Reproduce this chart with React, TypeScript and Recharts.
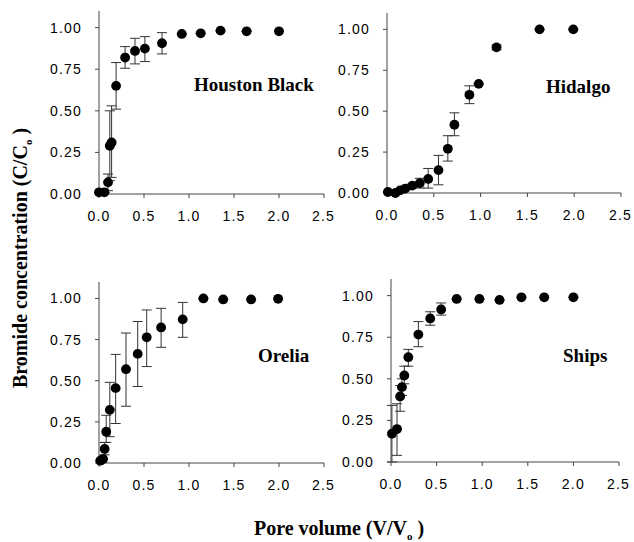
import React from 'react';
import { ScatterChart, Scatter, XAxis, YAxis, ErrorBar } from 'recharts';

// Houston Black
const houstonX = [0.0, 0.06, 0.1, 0.12, 0.14, 0.19, 0.29, 0.4, 0.51, 0.7, 0.92, 1.13, 1.35, 1.64, 2.0];
const houstonY = [0.01, 0.01, 0.07, 0.29, 0.31, 0.65, 0.82, 0.86, 0.874, 0.906, 0.962, 0.966, 0.982, 0.978, 0.978];
const houstonLo = [0.01, 0.01, 0.02, 0.08, 0.1, 0.51, 0.756, 0.782, 0.796, 0.842, 0.962, 0.966, 0.982, 0.978, 0.978];
const houstonHi = [0.01, 0.01, 0.12, 0.5, 0.53, 0.79, 0.886, 0.936, 0.946, 0.97, 0.962, 0.966, 0.982, 0.978, 0.978];

// Hidalgo
const hidalgoX = [0.01, 0.09, 0.14, 0.195, 0.27, 0.35, 0.44, 0.55, 0.65, 0.72, 0.88, 0.98, 1.17, 1.63, 1.99];
const hidalgoY = [0.006, 0.0, 0.016, 0.027, 0.045, 0.06, 0.086, 0.14, 0.27, 0.417, 0.6, 0.667, 0.89, 1.0, 1.0];
const hidalgoLo = [0.006, 0.0, 0.016, 0.02, 0.035, 0.03, 0.03, 0.05, 0.195, 0.35, 0.546, 0.667, 0.875, 1.0, 1.0];
const hidalgoHi = [0.006, 0.0, 0.016, 0.035, 0.055, 0.09, 0.15, 0.23, 0.35, 0.49, 0.655, 0.667, 0.905, 1.0, 1.0];

// Orelia
const oreliaX = [0.015, 0.045, 0.063, 0.08, 0.12, 0.185, 0.3, 0.43, 0.53, 0.69, 0.93, 1.16, 1.38, 1.69, 1.99];
const oreliaY = [0.014, 0.024, 0.085, 0.19, 0.323, 0.455, 0.57, 0.663, 0.764, 0.824, 0.873, 1.0, 0.994, 0.994, 0.998];
const oreliaLo = [0.014, 0.024, 0.05, 0.125, 0.16, 0.24, 0.345, 0.465, 0.586, 0.703, 0.764, 1.0, 0.994, 0.994, 0.998];
const oreliaHi = [0.014, 0.024, 0.125, 0.29, 0.49, 0.66, 0.79, 0.86, 0.93, 0.94, 0.976, 1.0, 0.994, 0.994, 0.998];

// Ships
const shipsX = [0.01, 0.066, 0.1, 0.12, 0.146, 0.19, 0.3, 0.43, 0.55, 0.72, 0.97, 1.19, 1.43, 1.68, 2.0];
const shipsY = [0.17, 0.198, 0.394, 0.45, 0.52, 0.63, 0.766, 0.863, 0.917, 0.98, 0.98, 0.974, 0.99, 0.99, 0.99];
const shipsLo = [0.0, 0.04, 0.305, 0.4, 0.47, 0.576, 0.693, 0.822, 0.883, 0.98, 0.98, 0.974, 0.99, 0.99, 0.99];
const shipsHi = [0.34, 0.35, 0.46, 0.5, 0.576, 0.677, 0.844, 0.903, 0.956, 0.98, 0.98, 0.974, 0.99, 0.99, 0.99];

const xTicks = [0, 0.5, 1.0, 1.5, 2.0, 2.5];
const yTicks = [0, 0.25, 0.5, 0.75, 1.0];

const build = (xs: number[], ys: number[], lo: number[], hi: number[]) =>
  xs.map((x, i) => ({ x, y: ys[i], err: [ys[i] - lo[i], hi[i] - ys[i]] }));

const tickStyle = { fontSize: 14, fill: '#000', fontFamily: '"Liberation Sans", Arial, sans-serif', letterSpacing: 1.2 };
const serif = '"Liberation Serif", "Times New Roman", serif';

const Dot = (p: any) => <circle cx={p.cx} cy={p.cy} r={4.9} fill="#000" />;

interface PanelProps {
  data: { x: number; y: number; err: number[] }[];
  x0: number; x1: number; y0: number; y1: number;
  label: string; labelX: number; labelY: number;
}

const Panel: React.FC<PanelProps> = ({ data, x0, x1, y0, y1, label, labelX, labelY }) => {
  const yw = 60, xh = 40, mt = 10, mr = 10;
  const left = x0 - yw;
  const top = y0 - mt;
  const w = x1 - x0 + yw + mr;
  const h = y1 - y0 + mt + xh;
  return (
    <div style={{ position: 'absolute', left, top, width: w, height: h }}>
      <ScatterChart width={w} height={h} margin={{ top: mt, right: mr, left: 0, bottom: 0 }}>
        <XAxis dataKey="x" type="number" domain={[0, 2.5]} ticks={xTicks} height={xh}
          tickFormatter={(v: number) => v.toFixed(1)} tick={tickStyle} tickSize={4} tickMargin={13}
          stroke="#444" />
        <XAxis xAxisId="top" orientation="top" type="number" domain={[0, 2.5]} height={0}
          tick={false} tickLine={false} stroke="#666" />
        <YAxis dataKey="y" type="number" domain={[0, 1.1]} ticks={yTicks} width={yw}
          tickFormatter={(v: number) => v.toFixed(2)} tick={tickStyle} tickSize={4} tickMargin={13}
          stroke="#444" />
        <YAxis yAxisId="right" orientation="right" type="number" domain={[0, 1.1]} width={0}
          tick={false} tickLine={false} stroke="#666" />
        <Scatter data={data} shape={Dot} isAnimationActive={false}>
          <ErrorBar dataKey="err" direction="y" width={5} stroke="#333" strokeWidth={1} isAnimationActive={false} />
        </Scatter>
      </ScatterChart>
      <div style={{ position: 'absolute', left: labelX - left, top: labelY - top - 16, fontFamily: serif,
        fontWeight: 'bold', fontSize: 19, whiteSpace: 'nowrap', lineHeight: '19px' }}>{label}</div>
    </div>
  );
};

export default function App() {
  return (
    <div style={{ position: 'absolute', left: 0, top: 0, width: 634, height: 542, background: '#fff' }}>
      <Panel data={build(houstonX, houstonY, houstonLo, houstonHi)} x0={99} x1={324} y0={11} y1={194}
        label="Houston Black" labelX={194} labelY={91} />
      <Panel data={build(hidalgoX, hidalgoY, hidalgoLo, hidalgoHi)} x0={387} x1={621} y0={13} y1={193}
        label="Hidalgo" labelX={546} labelY={93} />
      <Panel data={build(oreliaX, oreliaY, oreliaLo, oreliaHi)} x0={99} x1={324} y0={282} y1={463}
        label="Orelia" labelX={258} labelY={362} />
      <Panel data={build(shipsX, shipsY, shipsLo, shipsHi)} x0={391} x1={619} y0={279} y1={462}
        label="Ships" labelX={563} labelY={362} />
      <div style={{ position: 'absolute', left: 21, top: 258, transform: 'translate(-50%, -50%) rotate(-90deg)',
        fontFamily: serif, fontWeight: 'bold', fontSize: 20, whiteSpace: 'nowrap' }}>
        Bromide concentration (C/C<sub style={{ fontSize: 11 }}>o</sub> )
      </div>
      <div style={{ position: 'absolute', left: 339, top: 529, transform: 'translate(-50%, -50%)',
        fontFamily: serif, fontWeight: 'bold', fontSize: 20, whiteSpace: 'nowrap' }}>
        Pore volume (V/V<sub style={{ fontSize: 11 }}>o</sub> )
      </div>
    </div>
  );
}
